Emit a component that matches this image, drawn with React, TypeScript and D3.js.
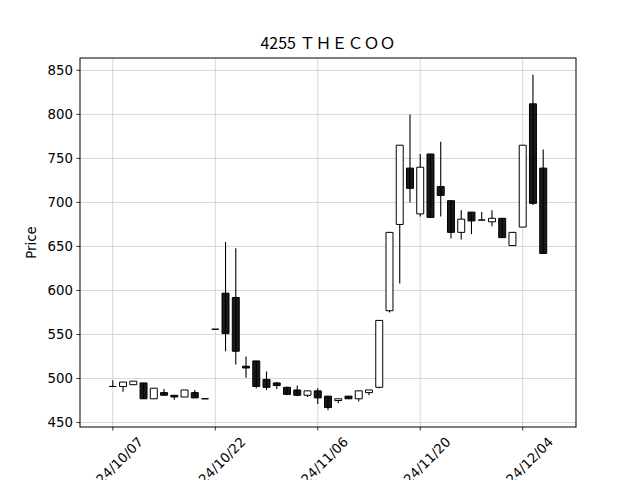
import React from "react";
import * as d3 from "d3";

// daily prices, 4255 THECOO
const dates = [
  "2024/10/07", "2024/10/08", "2024/10/09", "2024/10/10", "2024/10/11",
  "2024/10/15", "2024/10/16", "2024/10/17", "2024/10/18", "2024/10/21",
  "2024/10/22", "2024/10/23", "2024/10/24", "2024/10/25", "2024/10/28",
  "2024/10/29", "2024/10/30", "2024/10/31", "2024/11/01", "2024/11/05",
  "2024/11/06", "2024/11/07", "2024/11/08", "2024/11/11", "2024/11/12",
  "2024/11/13", "2024/11/14", "2024/11/15", "2024/11/18", "2024/11/19",
  "2024/11/20", "2024/11/21", "2024/11/22", "2024/11/25", "2024/11/26",
  "2024/11/27", "2024/11/28", "2024/11/29", "2024/12/02", "2024/12/03",
  "2024/12/04", "2024/12/05", "2024/12/06",
];
const opens = [
  491, 491, 493, 495, 477, 484, 481, 479, 484, 477,
  556, 597, 592, 514, 520, 499, 495, 490, 487, 481,
  486, 480, 475, 480, 477, 484, 490, 577, 675, 739,
  687, 755, 718, 702, 666, 689, 680, 678, 682, 651,
  672, 812, 739,
];
const highs = [
  498, 496, 497, 495, 489, 488, 481, 487, 487, 477,
  556, 655, 648, 525, 520, 508, 496, 491, 492, 486,
  489, 480, 477, 480, 486, 487, 566, 666, 765, 800,
  755, 755, 769, 702, 691, 689, 689, 691, 682, 666,
  765, 845, 760,
];
const lows = [
  491, 485, 493, 477, 477, 481, 476, 479, 478, 477,
  556, 531, 516, 501, 489, 487, 488, 481, 480, 479,
  471, 464, 472, 477, 474, 481, 489, 575, 608, 700,
  684, 683, 684, 659, 658, 664, 680, 673, 660, 651,
  672, 697, 642,
];
const closes = [
  491, 496, 497, 477, 489, 481, 479, 487, 478, 477,
  556, 551, 531, 512, 491, 490, 492, 482, 481, 486,
  478, 467, 477, 477, 486, 487, 566, 666, 765, 716,
  740, 683, 708, 666, 681, 679, 680, 682, 660, 666,
  765, 699, 642,
];
const yTicks = [450, 500, 550, 600, 650, 700, 750, 800, 850];
const xTickIdx = [0, 10, 20, 30, 40];

const W = 640;
const H = 480;
const margin = { top: 58, right: 64, bottom: 53, left: 80 };

export default function App() {
  const innerW = W - margin.left - margin.right;
  const innerH = H - margin.top - margin.bottom;

  const n = dates.length;
  const x = d3.scaleLinear().domain([-3.2, n - 1 + 3.2]).range([0, innerW]);

  const lo = d3.min(lows)!;
  const hi = d3.max(highs)!;
  const pad = (hi - lo) * 0.05;
  const y = d3.scaleLinear().domain([lo - pad, hi + pad]).range([innerH, 0]);

  const bodyW = x(0.68) - x(0);
  const font = "'DejaVu Sans', sans-serif";

  return (
    <svg width={W} height={H} style={{ position: "absolute", left: 0, top: 0 }}>
      <rect width={W} height={H} fill="#fff" />
      <text
        x={margin.left + innerW / 2}
        y={49}
        textAnchor="middle"
        fontFamily="'Noto Sans CJK JP', sans-serif"
        fontSize={16}
      >
        4255 ＴＨＥＣＯＯ
      </text>
      <g transform={`translate(${margin.left},${margin.top})`}>
        {/* grid */}
        {yTicks.map((t) => (
          <line key={"gy" + t} x1={0} x2={innerW} y1={y(t)} y2={y(t)} stroke="#d3d3d3" strokeWidth={0.9} />
        ))}
        {xTickIdx.map((i) => (
          <line key={"gx" + i} x1={x(i)} x2={x(i)} y1={0} y2={innerH} stroke="#d3d3d3" strokeWidth={0.9} />
        ))}

        {/* candles */}
        {dates.map((d, i) => {
          const up = closes[i] >= opens[i];
          const top = y(Math.max(opens[i], closes[i]));
          const bot = y(Math.min(opens[i], closes[i]));
          const x0 = x(i) - bodyW / 2;
          const x1 = x(i) + bodyW / 2;
          return (
            <g key={d}>
              <line x1={x(i)} x2={x(i)} y1={y(highs[i])} y2={y(lows[i])} stroke="#000" strokeWidth={1.1} />
              <path
                d={`M${x0},${top}H${x1}V${bot}H${x0}Z`}
                fill={up ? "#fff" : "rgba(0,0,0,0.9)"}
                stroke="#000"
                strokeWidth={1}
              />
            </g>
          );
        })}

        {/* frame */}
        <rect x={0} y={0} width={innerW} height={innerH} fill="none" stroke="#000" strokeWidth={1} />

        {/* y axis */}
        {yTicks.map((t) => (
          <g key={"ty" + t} transform={`translate(0,${y(t)})`}>
            <line x1={-3.5} x2={0} stroke="#000" strokeWidth={0.8} />
            <text x={-7} dy="0.35em" textAnchor="end" fontFamily={font} fontSize={13.3}>
              {t}
            </text>
          </g>
        ))}
        <text
          transform={`translate(${-44},${innerH / 2}) rotate(-90)`}
          textAnchor="middle"
          fontFamily={font}
          fontSize={13.3}
        >
          Price
        </text>

        {/* x axis */}
        {xTickIdx.map((i) => (
          <g key={"tx" + i} transform={`translate(${x(i)},${innerH})`}>
            <line y1={0} y2={3.5} stroke="#000" strokeWidth={0.8} />
            <text
              transform="translate(28,12.5) rotate(-45)"
              dy="0.35em"
              textAnchor="end"
              fontFamily={font}
              fontSize={13.3}
            >
              {dates[i]}
            </text>
          </g>
        ))}
      </g>
    </svg>
  );
}
